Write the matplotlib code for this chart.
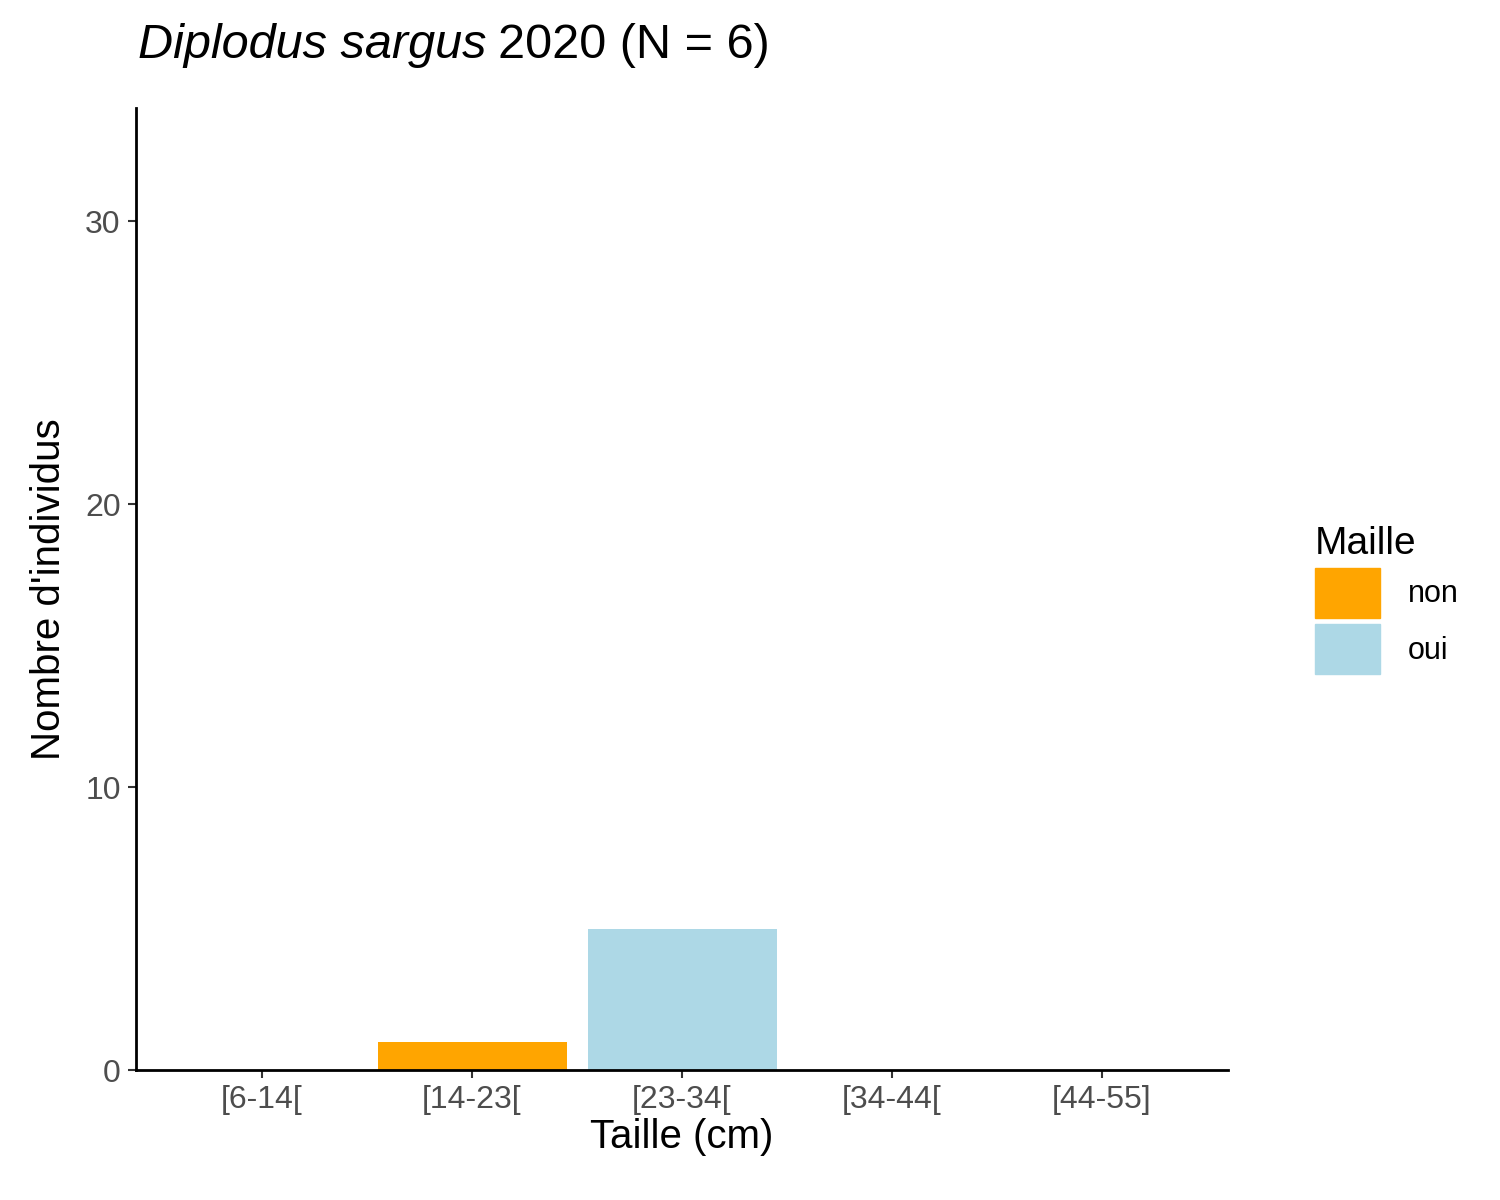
import matplotlib
matplotlib.use("Agg")
import matplotlib.pyplot as plt
from matplotlib.patches import Patch

categories = ["[6-14[", "[14-23[", "[23-34[", "[34-44[", "[44-55]"]
non_vals = [0, 1, 0, 0, 0]
oui_vals = [0, 0, 5, 0, 0]
yticks = [0, 10, 20, 30]

plt.rcParams['font.family'] = ['Liberation Sans', 'DejaVu Sans']
fig = plt.figure(figsize=(15, 12), dpi=100)
ax = fig.add_axes([0.0907, 0.1083, 0.728, 0.8017])
x = range(len(categories))
ax.bar(x, non_vals, width=0.9, color='#FFA500')
ax.bar(x, oui_vals, bottom=non_vals, width=0.9, color='#ADD8E6')
ax.set_xlim(-0.6, 4.6)
ax.set_ylim(0, 34)
ax.set_xticks(list(x))
ax.set_xticklabels(categories)
ax.set_yticks(yticks)
ax.tick_params(labelsize=23, length=6, width=1.5, color='#333333', labelcolor='#4d4d4d', pad=5)
for s in ['top', 'right']:
    ax.spines[s].set_visible(False)
for s in ['left', 'bottom']:
    ax.spines[s].set_linewidth(2)
ax.set_xlabel("Taille (cm)", fontsize=29, labelpad=2)
ax.set_ylabel("Nombre d'individus", fontsize=29, labelpad=12)

t1 = fig.text(0.092, 0.962, "Diplodus sargus", fontsize=35, style='italic', va='center', ha='left')
fig.canvas.draw()
bb = t1.get_window_extent()
fig.text((bb.x1 + 12) / fig.bbox.width, 0.962, "2020 (N = 6)", fontsize=35, va='center', ha='left')

handles = [Patch(color='#FFA500', label='non'), Patch(color='#ADD8E6', label='oui')]
leg = fig.legend(handles=handles, title='Maille', loc='center left', bbox_to_anchor=(0.858, 0.5),
                 frameon=False, fontsize=22, title_fontsize=28, handlelength=2.15, handleheight=2.15,
                 labelspacing=0.2, handletextpad=0.9)
leg._legend_box.align = 'left'
fig.savefig("out.png", dpi=100)
